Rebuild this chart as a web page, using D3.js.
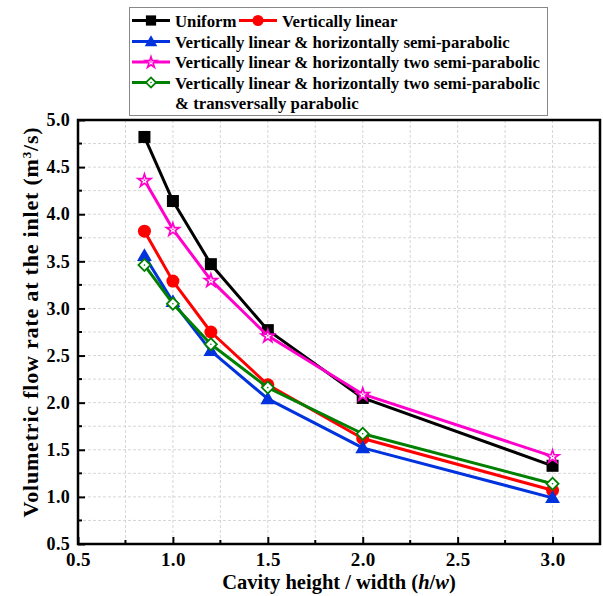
<!DOCTYPE html>
<html>
<head>
<meta charset="utf-8">
<script src="https://cdn.jsdelivr.net/npm/d3@7"></script>
<style>
  html, body { margin: 0; padding: 0; background: #fff; }
  svg { display: block; }
  text { font-family: "Liberation Serif", "Times New Roman", serif; font-weight: bold; fill: #000; }
</style>
</head>
<body>
<div id="chart"></div>
<script>
// Cavity height / width ratios
const ratios = [0.85, 1.0, 1.2, 1.5, 2.0, 3.0];

// Volumetric flow rate at the inlet (m^3/s) for each inlet-velocity profile
const uniform        = [4.82, 4.14, 3.47, 2.77, 2.05, 1.33];
const vertLinear     = [3.82, 3.29, 2.75, 2.19, 1.62, 1.07];
const vertHorSemi    = [3.56, 3.07, 2.55, 2.04, 1.52, 0.99];
const vertHorTwoSemi = [4.36, 3.84, 3.30, 2.71, 2.09, 1.43];
const vertHorTwoTrans= [3.46, 3.05, 2.62, 2.16, 1.67, 1.14];

const seriesNames = [
  "Uniform",
  "Vertically linear",
  "Vertically linear & horizontally semi-parabolic",
  "Vertically linear & horizontally two semi-parabolic",
  "Vertically linear & horizontally two semi-parabolic"
];
const seriesValues = [uniform, vertLinear, vertHorSemi, vertHorTwoSemi, vertHorTwoTrans];
const seriesColors = ["#000000", "#ff0000", "#0033dd", "#ff00cc", "#008000"];
const seriesSymbols = ["square", "circle", "triangle", "star", "diamond"];

const xTicks = [0.5, 1.0, 1.5, 2.0, 2.5, 3.0];
const yTicks = [0.5, 1.0, 1.5, 2.0, 2.5, 3.0, 3.5, 4.0, 4.5, 5.0];

const W = 603, H = 596;
const pL = 78, pR = 600, pT = 120, pB = 544;

const svg = d3.select("#chart").append("svg").attr("width", W).attr("height", H);

const x = d3.scaleLinear().domain([0.5, 3.25]).range([pL, pR]);
const y = d3.scaleLinear().domain([0.5, 5.0]).range([pB, pT]);

// dashed grid at major and minor steps
const gridX = d3.range(0.75, 3.01, 0.25);
const gridY = d3.range(0.75, 4.76, 0.25);
const grid = svg.append("g").attr("stroke", "#d6d6d6").attr("stroke-width", 1)
  .attr("stroke-dasharray", "3,2");
grid.selectAll(".gx").data(gridX).join("line").attr("class", "gx")
  .attr("x1", d => x(d)).attr("x2", d => x(d)).attr("y1", pT).attr("y2", pB);
grid.selectAll(".gy").data(gridY).join("line").attr("class", "gy")
  .attr("y1", d => y(d)).attr("y2", d => y(d)).attr("x1", pL).attr("x2", pR);

// axes with inward ticks
const xAxis = d3.axisBottom(x).tickValues(xTicks).tickSize(-7).tickFormat(d3.format(".1f")).tickPadding(9);
const yAxis = d3.axisLeft(y).tickValues(yTicks).tickSize(-7).tickFormat(d3.format(".1f")).tickPadding(8);
const gx = svg.append("g").attr("transform", `translate(0,${pB})`).call(xAxis);
const gy = svg.append("g").attr("transform", `translate(${pL},0)`).call(yAxis);
[gx, gy].forEach(g => {
  g.select(".domain").remove();
  g.selectAll(".tick line").attr("stroke", "#000").attr("stroke-width", 2);
  g.selectAll(".tick text").style("font-family", "Liberation Serif").style("font-weight", "bold");
});
gx.selectAll(".tick text").style("font-size", "19px").style("letter-spacing", "0.4px");
gy.selectAll(".tick text").style("font-size", "18px").style("letter-spacing", "0.3px");

// minor ticks
const minorX = d3.range(0.75, 3.26, 0.5);
const minorY = d3.range(0.75, 4.76, 0.5);
svg.append("g").selectAll("line").data(minorX).join("line")
  .attr("x1", d => x(d)).attr("x2", d => x(d)).attr("y1", pB).attr("y2", pB - 4)
  .attr("stroke", "#000").attr("stroke-width", 2);
svg.append("g").selectAll("line").data(minorY).join("line")
  .attr("y1", d => y(d)).attr("y2", d => y(d)).attr("x1", pL).attr("x2", pL + 4)
  .attr("stroke", "#000").attr("stroke-width", 2);

// frame
svg.append("rect").attr("x", pL).attr("y", pT).attr("width", pR - pL).attr("height", pB - pT)
  .attr("fill", "none").attr("stroke", "#000").attr("stroke-width", 2.5);

// symbol drawing
function drawSymbol(g, kind, color, cx, cy, scale) {
  const s = scale || 1;
  if (kind === "square") {
    g.append("rect").attr("x", cx - 6 * s).attr("y", cy - 6 * s).attr("width", 12 * s).attr("height", 12 * s)
      .attr("fill", color);
  } else if (kind === "circle") {
    g.append("circle").attr("cx", cx).attr("cy", cy).attr("r", 6.5 * s).attr("fill", color);
  } else if (kind === "triangle") {
    g.append("path").attr("d", d3.symbol(d3.symbolTriangle, 95 * s * s)())
      .attr("transform", `translate(${cx},${cy + 1})`).attr("fill", color);
  } else if (kind === "star") {
    g.append("path").attr("d", d3.symbol(d3.symbolStar, 52 * s * s)())
      .attr("transform", `translate(${cx},${cy + 0.5})`).attr("fill", "#fff")
      .attr("stroke", color).attr("stroke-width", 1.7);
    g.append("circle").attr("cx", cx).attr("cy", cy).attr("r", 0.8).attr("fill", color);
  } else if (kind === "diamond") {
    g.append("path").attr("d", d3.symbol(d3.symbolSquare, 72 * s * s)())
      .attr("transform", `translate(${cx},${cy}) rotate(45)`).attr("fill", "#fff")
      .attr("stroke", color).attr("stroke-width", 1.8);
    g.append("circle").attr("cx", cx).attr("cy", cy).attr("r", 0.8).attr("fill", color);
  }
}

// series lines and markers
const line = d3.line().x((d, i) => x(ratios[i])).y(d => y(d));
seriesValues.forEach((vals, k) => {
  const g = svg.append("g");
  g.append("path").datum(vals).attr("d", line).attr("fill", "none")
    .attr("stroke", seriesColors[k]).attr("stroke-width", 3).attr("stroke-linejoin", "round");
  vals.forEach((v, i) => drawSymbol(g, seriesSymbols[k], seriesColors[k], x(ratios[i]), y(v)));
});

// axis titles
const xt = svg.append("text").attr("x", 339).attr("y", 589).attr("text-anchor", "middle")
  .style("font-size", "20.5px");
xt.append("tspan").text("Cavity height / width (");
xt.append("tspan").style("font-style", "italic").text("h");
xt.append("tspan").text("/");
xt.append("tspan").style("font-style", "italic").text("w");
xt.append("tspan").text(")");

const yt = svg.append("text").attr("transform", "translate(38,322) rotate(-90)").attr("text-anchor", "middle")
  .style("font-size", "22px").style("letter-spacing", "0.8px");
yt.append("tspan").text("Volumetric flow rate at the inlet (m");
yt.append("tspan").attr("baseline-shift", "super").style("font-size", "13px").text("3");
yt.append("tspan").text("/s)");

// legend
const lg = svg.append("g");
lg.append("rect").attr("x", 129.5).attr("y", 7.5).attr("width", 418).attr("height", 108)
  .attr("fill", "#fff").attr("stroke", "#888").attr("stroke-width", 1);
const legendRows = [
  { k: 0, x0: 132, y0: 20.5 },
  { k: 1, x0: 239, y0: 20.5 },
  { k: 2, x0: 132, y0: 41.5 },
  { k: 3, x0: 132, y0: 62 },
  { k: 4, x0: 132, y0: 82.5 }
];
legendRows.forEach(r => {
  lg.append("line").attr("x1", r.x0).attr("x2", r.x0 + 38).attr("y1", r.y0).attr("y2", r.y0)
    .attr("stroke", seriesColors[r.k]).attr("stroke-width", 3);
  drawSymbol(lg, seriesSymbols[r.k], seriesColors[r.k], r.x0 + 19, r.y0, 0.85);
  lg.append("text").attr("x", r.x0 + 43).attr("y", r.y0 + 6).style("font-size", "16.8px")
    .text(seriesNames[r.k]);
});
lg.append("text").attr("x", 175).attr("y", 109).style("font-size", "16.8px")
  .text("& transversally parabolic");
</script>
</body>
</html>
